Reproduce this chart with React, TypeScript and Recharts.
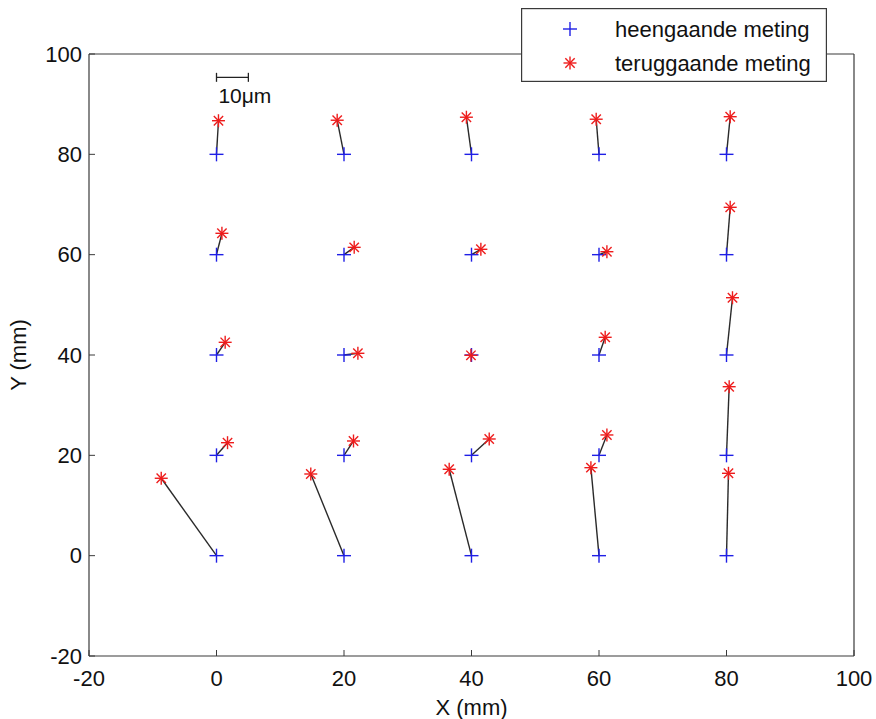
import React from 'react';
import { ScatterChart, Scatter, XAxis, YAxis, Legend } from 'recharts';

const FONT = '"Liberation Sans", Arial, Helvetica, sans-serif';
const BLUE = '#1f1fe6';
const RED = '#ee1c1c';
const AXIS = '#3a3a3a';

const xTicks = [-20, 0, 20, 40, 60, 80, 100];
const yTicks = [-20, 0, 20, 40, 60, 80, 100];

// heengaande meting (nominal grid positions)
const heenX = [0, 20, 40, 60, 80, 0, 20, 40, 60, 80, 0, 20, 40, 60, 80, 0, 20, 40, 60, 80, 0, 20, 40, 60, 80];
const heenY = [0, 0, 0, 0, 0, 20, 20, 20, 20, 20, 40, 40, 40, 40, 40, 60, 60, 60, 60, 60, 80, 80, 80, 80, 80];

// teruggaande meting (displacement magnified for display)
const terugX = [-8.67, 14.79, 36.5, 58.73, 80.31, 1.73, 21.49, 42.78, 61.24, 80.42, 1.36, 22.18, 39.91, 60.97, 80.94, 0.85, 21.6, 41.47, 61.24, 80.58, 0.31, 18.93, 39.2, 59.56, 80.58];
const terugY = [15.43, 16.28, 17.22, 17.54, 16.42, 22.52, 22.86, 23.26, 24.06, 33.68, 42.53, 40.34, 39.94, 43.53, 51.42, 64.26, 61.46, 61.07, 60.59, 69.44, 86.7, 86.8, 87.4, 87.0, 87.5];

const legendLabels = ['heengaande meting', 'teruggaande meting'];

// scale bar: 10 µm shown as 5 mm on the plot
const scaleBarX = [0, 5];
const scaleBarY = [95.35, 95.35];
const scaleBarLabel = '10\u03bcm';
const scaleLabelPos = [{ x: 0.3, y: 90.3 }];

const heen = heenX.map((x, i) => ({ x, y: heenY[i] }));
const terug = terugX.map((x, i) => ({ x, y: terugY[i] }));
const pairs = heen.map((p, i) => [p, terug[i]]);
const scaleBar = scaleBarX.map((x, i) => ({ x, y: scaleBarY[i] }));

const PlusMark = ({ cx, cy }: any) => {
  if (cx == null || cy == null) return null;
  const r = 7;
  return (
    <g>
      <line x1={cx - r} x2={cx + r} y1={cy} y2={cy} stroke={BLUE} strokeWidth={1.4} />
      <line x1={cx} x2={cx} y1={cy - r} y2={cy + r} stroke={BLUE} strokeWidth={1.4} />
    </g>
  );
};

const StarMark = ({ cx, cy }: any) => {
  if (cx == null || cy == null) return null;
  const r = 6.5;
  const d = r * 0.72;
  return (
    <g stroke={RED} strokeWidth={1.4}>
      <line x1={cx - r} x2={cx + r} y1={cy} y2={cy} />
      <line x1={cx} x2={cx} y1={cy - r} y2={cy + r} />
      <line x1={cx - d} x2={cx + d} y1={cy - d} y2={cy + d} />
      <line x1={cx - d} x2={cx + d} y1={cy + d} y2={cy - d} />
    </g>
  );
};

const ScaleTick = ({ cx, cy }: any) => {
  if (cx == null || cy == null) return null;
  return <line x1={cx} x2={cx} y1={cy - 4.5} y2={cy + 4.5} stroke="#222" strokeWidth={1.3} />;
};

const ScaleText = ({ cx, cy }: any) => {
  if (cx == null || cy == null) return null;
  return (
    <text x={cx} y={cy} fontSize={21} fontFamily={FONT} fill="#111">
      {scaleBarLabel}
    </text>
  );
};

const NoShape = () => null;

const renderXLabel = (props: any) => {
  const vb = props.viewBox || {};
  return (
    <text x={vb.x + vb.width / 2} y={vb.y + 59} textAnchor="middle" fontSize={22} fontFamily={FONT} fill="#111">
      X (mm)
    </text>
  );
};

const renderYLabel = (props: any) => {
  const vb = props.viewBox || {};
  const cx = 26;
  const cy = vb.y + vb.height / 2;
  return (
    <text x={cx} y={cy} textAnchor="middle" fontSize={22} fontFamily={FONT} fill="#111" transform={`rotate(-90 ${cx} ${cy})`}>
      Y (mm)
    </text>
  );
};

const renderLegend = () => (
  <svg width={306} height={74} style={{ display: 'block' }}>
    <rect x={0.6} y={0.6} width={304.8} height={72.8} fill="#fff" stroke={AXIS} strokeWidth={1.2} />
    <PlusMark cx={49} cy={21} />
    <StarMark cx={49} cy={55} />
    <text x={94} y={29} fontSize={22} fontFamily={FONT} fill="#111">{legendLabels[0]}</text>
    <text x={94} y={63} fontSize={22} fontFamily={FONT} fill="#111">{legendLabels[1]}</text>
  </svg>
);

const tickStyle = { fontSize: 22, fill: '#111', fontFamily: FONT };
const axisLineStyle = { stroke: AXIS, strokeWidth: 1.2 };
const tickLineStyle = { stroke: AXIS, strokeWidth: 1 };

export default function App() {
  return (
    <div style={{ width: 876, height: 719, position: 'relative', background: '#fff' }}>
      <style>{`html, body { margin: 0; padding: 0; overflow: hidden; background: #fff; }`}</style>
      <ScatterChart
        width={876}
        height={719}
        margin={{ top: 54, right: 22, bottom: 0, left: 0 }}
        style={{ overflow: 'visible' }}
      >
        <XAxis
          xAxisId="b"
          type="number"
          dataKey="x"
          domain={[-20, 100]}
          ticks={xTicks}
          allowDataOverflow
          orientation="bottom"
          height={63}
          tickSize={-6}
          tickMargin={20}
          tick={tickStyle}
          axisLine={axisLineStyle}
          tickLine={tickLineStyle}
          label={renderXLabel}
        />
        <XAxis
          xAxisId="t"
          type="number"
          dataKey="x"
          domain={[-20, 100]}
          ticks={xTicks}
          allowDataOverflow
          orientation="top"
          mirror
          tickSize={6}
          tick={false}
          axisLine={axisLineStyle}
          tickLine={tickLineStyle}
        />
        <YAxis
          yAxisId="l"
          type="number"
          dataKey="y"
          domain={[-20, 100]}
          ticks={yTicks}
          allowDataOverflow
          orientation="left"
          width={89}
          tickSize={-6}
          tickMargin={13}
          tick={tickStyle}
          axisLine={axisLineStyle}
          tickLine={tickLineStyle}
          label={renderYLabel}
        />
        <YAxis
          yAxisId="r"
          type="number"
          dataKey="y"
          domain={[-20, 100]}
          ticks={yTicks}
          allowDataOverflow
          orientation="right"
          mirror
          tickSize={6}
          tick={false}
          axisLine={axisLineStyle}
          tickLine={tickLineStyle}
        />
        <Legend
          layout="vertical"
          align="center"
          verticalAlign="middle"
          content={renderLegend}
          wrapperStyle={{ left: 521, top: 8, width: 306, height: 74 }}
        />
        {pairs.map((d, i) => (
          <Scatter
            key={`pair-${i}`}
            xAxisId="b"
            yAxisId="l"
            data={d}
            line={{ stroke: '#2a2a2a', strokeWidth: 1.4 }}
            shape={NoShape}
            legendType="none"
            isAnimationActive={false}
          />
        ))}
        <Scatter
          name={legendLabels[0]}
          xAxisId="b"
          yAxisId="l"
          data={heen}
          shape={PlusMark}
          isAnimationActive={false}
        />
        <Scatter
          name={legendLabels[1]}
          xAxisId="b"
          yAxisId="l"
          data={terug}
          shape={StarMark}
          isAnimationActive={false}
        />
        <Scatter
          xAxisId="b"
          yAxisId="l"
          data={scaleBar}
          line={{ stroke: '#222', strokeWidth: 1.3 }}
          shape={ScaleTick}
          legendType="none"
          isAnimationActive={false}
        />
        <Scatter
          xAxisId="b"
          yAxisId="l"
          data={scaleLabelPos}
          shape={ScaleText}
          legendType="none"
          isAnimationActive={false}
        />
      </ScatterChart>
    </div>
  );
}
